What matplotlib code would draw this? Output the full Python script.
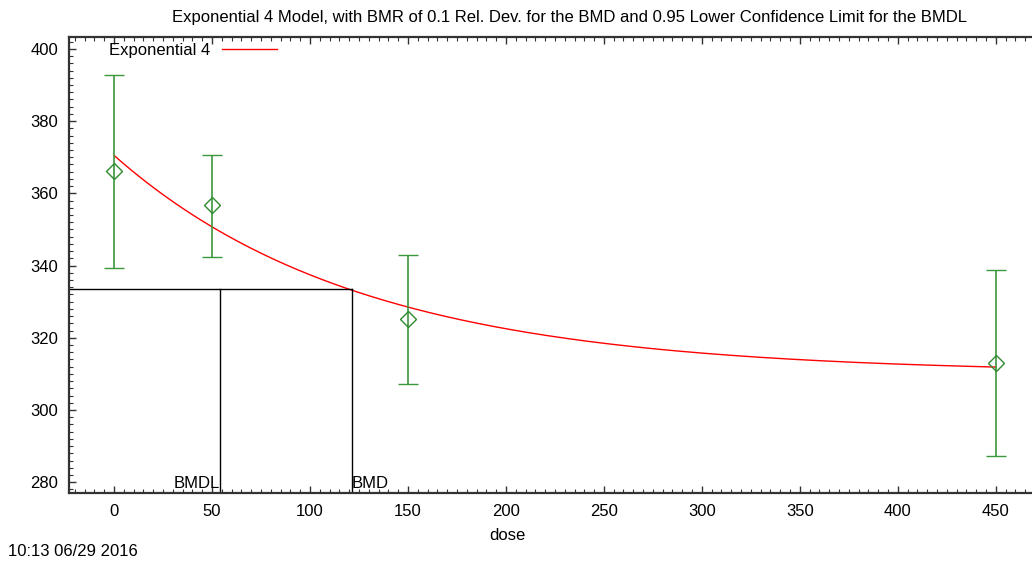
import numpy as np
import matplotlib
matplotlib.use('Agg')
import matplotlib.pyplot as plt
from matplotlib.ticker import MultipleLocator

plt.rcParams['font.family'] = ['Liberation Sans', 'DejaVu Sans']

# observed data (dose groups), means and confidence limits
dose = [0, 50, 150, 450]
mean = [366.2, 356.8, 325.2, 312.9]
upper = [392.8, 370.6, 342.9, 338.7]
lower = [339.3, 342.4, 307.1, 287.3]

# Exponential 4 model parameters: f(d) = c + (a - c) * exp(-b * d)
a_par = 370.5
b_par = 0.00795
c_par = 310.2

bmd = 121.4
bmdl = 54.1
bmr_level = 333.5

fs = 12

fig = plt.figure(figsize=(10.32, 5.61), dpi=100)
ax = fig.add_axes([69 / 1032, 1 - 493 / 561, 1 - 69 / 1032, 456 / 561])

mean = np.array(mean)
yerr = [mean - np.array(lower), np.array(upper) - mean]
ax.errorbar(dose, mean, yerr=yerr, fmt='D', mfc='none', mec='#2e8b2e',
            ms=8, mew=1.0, ecolor='#3c963c', elinewidth=1.2,
            capsize=7.5, capthick=1.2, zorder=3)

d = np.linspace(0, 450, 300)
ax.plot(d, c_par + (a_par - c_par) * np.exp(-b_par * d), color='red',
        lw=1.0, label='Exponential 4', zorder=2)

# BMD / BMDL lines
ax.plot([-23, bmd], [bmr_level, bmr_level], color='black', lw=1.0)
ax.plot([bmdl, bmdl], [277, bmr_level], color='black', lw=1.0)
ax.plot([bmd, bmd], [277, bmr_level], color='black', lw=1.0)
ax.text(bmdl, 277.6, 'BMDL', ha='right', va='bottom', fontsize=fs)
ax.text(bmd, 277.6, 'BMD', ha='left', va='bottom', fontsize=fs)

ax.set_xlim(-23, 468.5)
ax.set_ylim(277, 403.3)
ax.xaxis.set_major_locator(MultipleLocator(50))
ax.xaxis.set_minor_locator(MultipleLocator(5))
ax.yaxis.set_major_locator(MultipleLocator(20))
ax.yaxis.set_minor_locator(MultipleLocator(2))
ax.tick_params(which='both', direction='in', top=True, right=False,
               color='#333333', labelsize=fs)
ax.tick_params(which='major', length=5, width=1.0, pad=8)
ax.tick_params(which='minor', length=3, width=0.8)
ax.tick_params(axis='y', which='major', pad=8)
for side in ['left', 'bottom', 'top']:
    ax.spines[side].set_linewidth(1.6)
    ax.spines[side].set_color('#333333')
ax.spines['right'].set_visible(False)

ax.set_xlabel('dose', fontsize=fs)
ax.xaxis.set_label_coords(0.455, -0.077)
ax.set_title('Exponential 4 Model, with BMR of 0.1 Rel. Dev. for the BMD and 0.95 Lower Confidence Limit for the BMDL',
             fontsize=fs, pad=11, x=0.52)

ax.legend(loc='upper left', bbox_to_anchor=(0.032, 1.008), frameon=False,
          markerfirst=False, handlelength=3.3, handletextpad=0.7,
          fontsize=fs, borderaxespad=0.15)

fig.text(8 / 1032, 1 - 552 / 561, '10:13 06/29 2016', fontsize=fs,
         va='center', ha='left')

fig.savefig('out.png', dpi=100)
